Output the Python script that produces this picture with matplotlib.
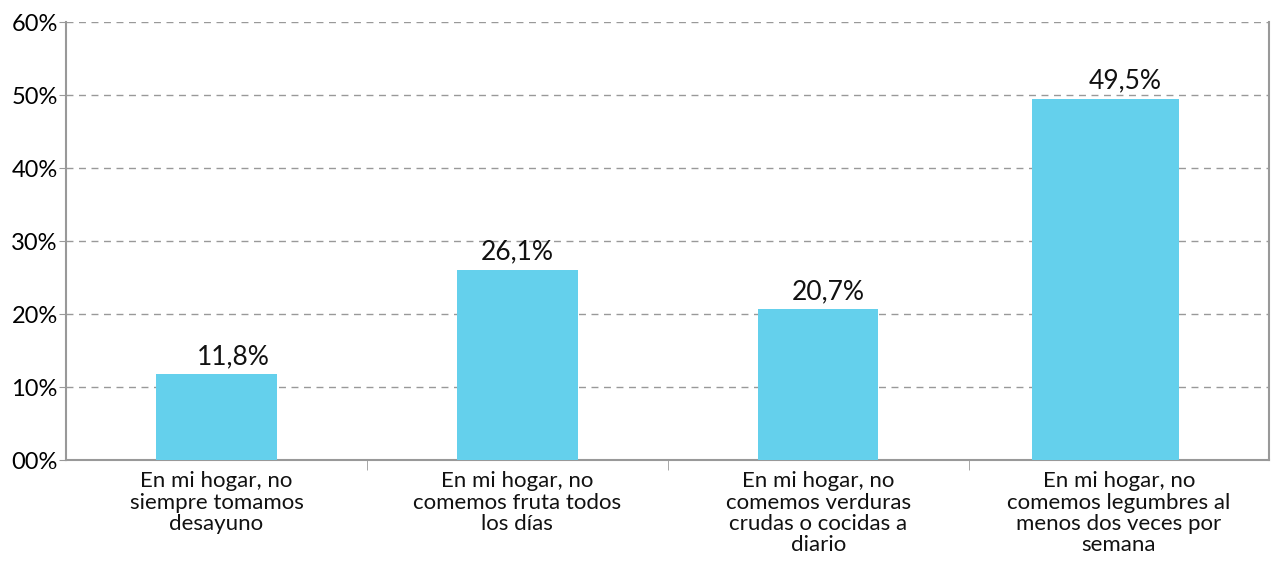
import numpy as np
import matplotlib.pyplot as plt

categories = [
    'En mi hogar, no\nsiempre tomamos\ndesayuno',
    'En mi hogar, no\ncomemos fruta todos\nlos días',
    'En mi hogar, no\ncomemos verduras\ncrudas o cocidas a\ndiario',
    'En mi hogar, no\ncomemos legumbres al\nmenos dos veces por\nsemana',
]
values = [11.8, 26.1, 20.7, 49.5]
value_labels = ['11,8%', '26,1%', '20,7%', '49,5%']
ytick_labels = ['00%', '10%', '20%', '30%', '40%', '50%', '60%']

plt.rcParams['font.family'] = ['Lato', 'DejaVu Sans']

fig = plt.figure(figsize=(12.72, 5.66), dpi=100)
ax = fig.add_axes([0.052, 0.187, 0.946, 0.774])

x = np.arange(len(categories))
widths = [0.40, 0.40, 0.40, 0.49]
offsets = [0, 0, 0, -0.045]
label_dx = [0.055, 0, 0.035, 0.065]
bars = ax.bar(x + np.array(offsets), values, width=widths, color='#64d0ec', zorder=3)

for b, lab, dx in zip(bars, value_labels, label_dx):
    ax.text(b.get_x() + b.get_width() / 2 + dx, b.get_height() + 0.7, lab,
            ha='center', va='bottom', fontsize=19, color='#111111')

ax.set_xlim(-0.5, len(categories) - 0.5)
ax.set_ylim(0, 60)
ax.set_yticks(range(0, 61, 10))
ax.set_yticklabels(ytick_labels, fontsize=17)
ax.set_xticks(x)
ax.set_xticklabels(categories, fontsize=16, linespacing=1.08, color='#111111')
ax.set_xticks(np.arange(0.5, len(categories) - 0.5), minor=True)
ax.tick_params(axis='x', which='major', length=0, pad=8)
ax.tick_params(axis='x', which='minor', length=7, color='#999999', direction='out')
ax.tick_params(axis='y', length=5, color='#999999', pad=1)

ax.grid(axis='y', linestyle=(0, (5, 4)), color='#999999', linewidth=1, zorder=0)
for side in ['left', 'bottom', 'right']:
    ax.spines[side].set_color('#999999')
    ax.spines[side].set_linewidth(1.5)
ax.spines['top'].set_visible(False)

plt.savefig('out.png', dpi=100)
